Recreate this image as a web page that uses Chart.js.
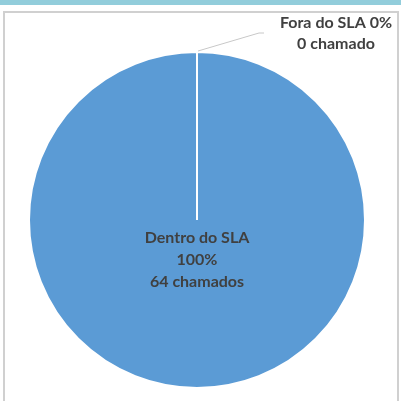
<!DOCTYPE html>
<html>
<head>
<meta charset="utf-8">
<script src="https://cdn.jsdelivr.net/npm/chart.js@4.4.1/dist/chart.umd.min.js"></script>
<style>
  html, body { margin: 0; padding: 0; background: #fff; }
  body { width: 401px; height: 401px; position: relative; overflow: hidden; }
  .faixa { position: absolute; left: 0; top: 0; width: 401px; height: 5px; background: #92cddb; }
  .moldura { position: absolute; left: 3px; top: 11px; width: 392px; height: 400px; border: 2px solid #d0d0d0; }
  .grafico { position: absolute; left: 0; top: 0; width: 401px; height: 401px; }
</style>
</head>
<body>
<div class="faixa"></div>
<div class="moldura"></div>
<div class="grafico"><canvas id="slaChart" width="401" height="401"></canvas></div>
<script>
  const categorias = ["Dentro do SLA", "Fora do SLA"];
  const chamados = [64, 0];
  const sufixos = ["chamados", "chamado"];
  const cores = ["#5b9bd5", "#ed7d31"];

  const total = chamados.reduce((a, b) => a + b, 0);
  const percentuais = chamados.map((v) => Math.round((v / total) * 100));

  // rótulos: o do SLA atendido vai no centro, o fora do SLA fica por fora com linha guia
  const rotulosPlugin = {
    id: "rotulosSla",
    afterDraw(chart) {
      const ctx = chart.ctx;
      const arcs = chart.getDatasetMeta(0).data;
      ctx.save();
      ctx.font = "bold 16px Lato";
      ctx.fillStyle = "#404040";
      ctx.textAlign = "center";
      ctx.textBaseline = "alphabetic";

      // fatia principal
      const a0 = arcs[0];
      const linhas0 = [categorias[0], percentuais[0] + "%", chamados[0] + " " + sufixos[0]];
      linhas0.forEach((t, i) => ctx.fillText(t, a0.x, a0.y + 23 + i * 22));

      // fatia vazia, topo do círculo
      const a1 = arcs[1];
      const ang = a1.startAngle;
      const px = a1.x + Math.cos(ang) * a1.outerRadius;
      const py = a1.y + Math.sin(ang) * a1.outerRadius;
      ctx.strokeStyle = "#c8c8c8";
      ctx.lineWidth = 1;
      ctx.beginPath();
      ctx.moveTo(px + 1, py - 1);
      ctx.lineTo(px + 62, py - 19);
      ctx.lineTo(px + 67, py - 19);
      ctx.stroke();
      ctx.fillText(categorias[1] + " " + percentuais[1] + "%", px + 139, py - 24);
      ctx.fillText(chamados[1] + " " + sufixos[1], px + 139, py - 3);
      ctx.restore();
    }
  };

  new Chart(document.getElementById("slaChart"), {
    type: "pie",
    data: {
      labels: categorias,
      datasets: [{
        data: chamados,
        backgroundColor: cores,
        borderColor: "#ffffff",
        borderWidth: 2
      }]
    },
    options: {
      responsive: false,
      animation: false,
      layout: { padding: { left: 28, top: 51, right: 35, bottom: 12 } },
      plugins: {
        legend: { display: false },
        tooltip: { enabled: false }
      }
    },
    plugins: [rotulosPlugin]
  });
</script>
</body>
</html>
